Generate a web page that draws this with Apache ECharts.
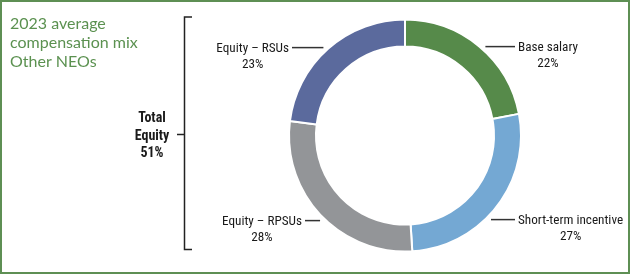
<!DOCTYPE html>
<html>
<head>
<meta charset="utf-8">
<script src="https://cdn.jsdelivr.net/npm/echarts@6/dist/echarts.min.js"></script>
<style>
html,body{margin:0;padding:0;background:#fff;}
#chart{width:630px;height:274px;}
</style>
</head>
<body>
<div id="chart"></div>
<script>
// ---- data ----
const categories = ['Base salary', 'Short-term incentive', 'Equity – RPSUs', 'Equity – RSUs'];
const shares = [22, 27, 28, 23];
const sliceColors = ['#568a4a', '#74a8d3', '#939598', '#5b6a9d'];
const titleLines = ['2023 average', 'compensation mix', 'Other NEOs'];
const groupLabel = ['Total', 'Equity', '51%'];

// ---- font pick: first installed narrow face ----
function pickFont(cands) {
  const c = document.createElement('canvas').getContext('2d');
  const probe = 'Short-term incentive Equity';
  c.font = '40px monospace';
  const base = c.measureText(probe).width;
  for (const f of cands) {
    c.font = '40px "' + f + '", monospace';
    if (Math.abs(c.measureText(probe).width - base) > 0.5) return f;
  }
  return 'sans-serif';
}
const NARROW = pickFont(['Liberation Sans Narrow', 'Roboto Condensed', 'Arial Narrow', 'Noto Sans Display Condensed', 'DejaVu Sans Condensed']);
const FONT = '"' + NARROW + '", sans-serif';
const isDejaVu = NARROW === 'DejaVu Sans Condensed';
const LABEL_SIZE = isDejaVu ? 12 : 13.2;
const BOLD_SIZE = isDejaVu ? 12.5 : 14;

// ---- layout ----
const CX = 405, CY = 135.6, R_OUT = 116, R_IN = 89;
// per-slice label placement: side (+1 right, -1 left), line offset from centre, line end x
const labelSpots = [
  { dir: 1, dy: -89, end: 515 },
  { dir: 1, dy: 84, end: 515 },
  { dir: -1, dy: 85, end: 305 },
  { dir: -1, dy: -88, end: 292 }
];

const chart = echarts.init(document.getElementById('chart'), null, { renderer: 'canvas' });

const option = {
  animation: false,
  backgroundColor: '#fff',
  title: {
    text: titleLines.join('\n'),
    left: 10,
    top: 14,
    padding: 0,
    textStyle: {
      fontFamily: 'Lato, "Open Sans", sans-serif',
      fontSize: 16,
      fontWeight: 'normal',
      color: '#5b9150',
      lineHeight: 19
    }
  },
  graphic: [
    {
      type: 'rect',
      shape: { x: 1, y: 1, width: 628, height: 272 },
      style: { fill: 'none', stroke: '#5e8f54', lineWidth: 2 },
      silent: true
    },
    {
      type: 'polyline',
      shape: { points: [[192, 17], [184.5, 17], [184.5, 249.5], [192, 249.5]] },
      style: { stroke: '#222', lineWidth: 1.5, fill: 'none' },
      silent: true
    },
    {
      type: 'line',
      shape: { x1: 177, y1: 134.5, x2: 184.5, y2: 134.5 },
      style: { stroke: '#222', lineWidth: 1.5 },
      silent: true
    },
    {
      type: 'text',
      x: 152,
      y: 136,
      style: {
        text: groupLabel.join('\n'),
        fontFamily: FONT,
        fontWeight: 'bold',
        fontSize: BOLD_SIZE,
        lineHeight: 17.5,
        fill: '#1a1a1a',
        align: 'center',
        verticalAlign: 'middle'
      },
      silent: true
    }
  ],
  series: [{
    type: 'pie',
    center: [CX, CY],
    radius: [R_IN, R_OUT],
    startAngle: 90,
    clockwise: true,
    avoidLabelOverlap: false,
    itemStyle: { borderColor: '#fff', borderWidth: 2 },
    label: {
      show: true,
      formatter: '{b}\n{c}%',
      fontFamily: FONT,
      fontSize: LABEL_SIZE,
      lineHeight: 16,
      color: '#1a1a1a',
      align: 'center',
      overflow: 'none'
    },
    labelLine: {
      show: true,
      length: 0,
      length2: 0,
      lineStyle: { color: '#333', width: 1.5 }
    },
    labelLayout: function (p) {
      const s = labelSpots[p.dataIndex];
      const ly = CY + s.dy;
      const edge = Math.sqrt(R_OUT * R_OUT - s.dy * s.dy);
      const x0 = CX + s.dir * (edge + 6);
      const x1 = s.end;
      const w = p.labelRect.width;
      return {
        x: x1 + s.dir * (3 + w / 2),
        y: ly - 7,
        align: 'center',
        verticalAlign: 'top',
        labelLinePoints: [[x0, ly], [x1, ly], [x1, ly]]
      };
    },
    data: categories.map((n, i) => ({ name: n, value: shares[i], itemStyle: { color: sliceColors[i] } }))
  }]
};
chart.setOption(option);
</script>
</body>
</html>
